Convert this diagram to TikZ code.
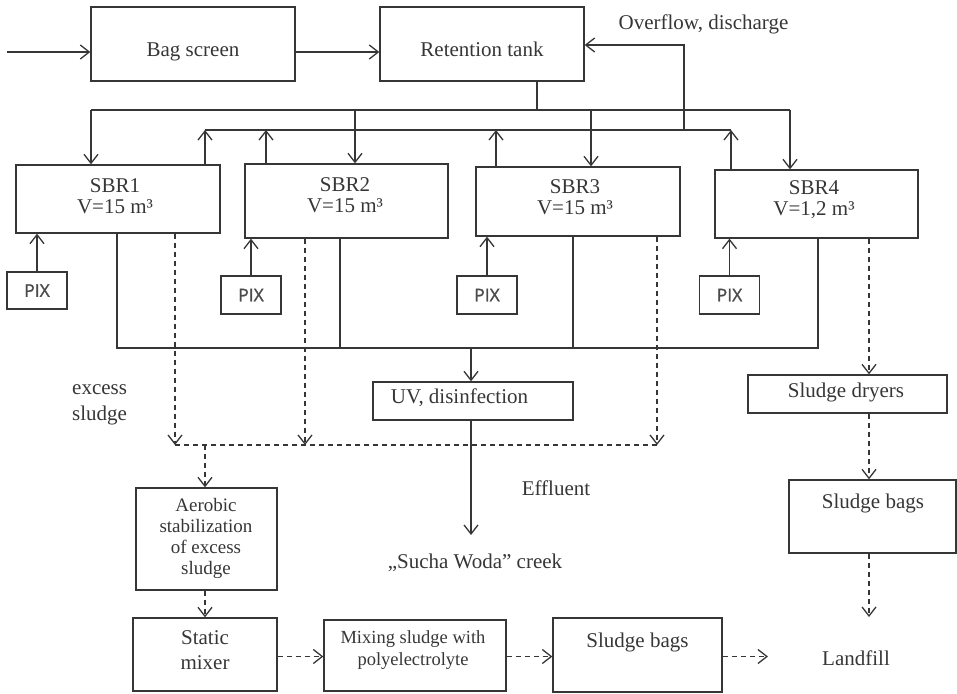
\documentclass[tikz,border=0pt]{standalone}
\usepackage{fontspec}
\setmainfont{Liberation Serif}
\newfontfamily\pixfont[FakeBold=1.2]{Open Sans}
\usetikzlibrary{arrows.meta,calc}
\definecolor{ink}{HTML}{363636}
\begin{document}
\begin{tikzpicture}[x=1pt,y=-1pt,
  box/.style={draw=ink, line width=1.3pt, inner sep=0pt, minimum width=#1},
  txt/.style={text=ink, inner sep=0pt, align=center, font=\fontsize{21}{21}\selectfont},
  small/.style={text=ink, inner sep=0pt, align=center, font=\fontsize{18.5}{21}\selectfont},
  pix/.style={draw=ink, line width=1.3pt, minimum width=60pt, minimum height=38pt, inner sep=0pt, text=ink!90, font=\pixfont\fontsize{17.5}{17.5}\selectfont},
  conn/.style={draw=ink, line width=1.3pt},
  arr/.style={conn, -{Straight Barb[length=9pt,width=14pt,line width=1.3pt]}},
  dconn/.style={conn, dash pattern=on 5pt off 4pt},
  darr/.style={arr, dash pattern=on 5pt off 4pt}]
\useasboundingbox (0,0) rectangle (957,693);

% ---- boxes ----
\node[box=204pt, minimum height=74pt] (bag) at (193,44) {};
\node[box=204pt, minimum height=74pt] (ret) at (482,44) {};
\node[box=204pt, minimum height=68pt] (sbr1) at (118,199) {};
\node[box=203pt, minimum height=74pt] (sbr2) at (346.5,201) {};
\node[box=204pt, minimum height=69pt] (sbr3) at (578,201.5) {};
\node[box=203pt, minimum height=68pt] (sbr4) at (816.5,204) {};
\node[pix, minimum height=37pt] (pix1) at (37,290.5) {PIX};
\node[pix] (pix2) at (251,295) {PIX};
\node[pix] (pix3) at (487,295) {PIX};
\node[pix] (pix4) at (729.5,295) {PIX};
\node[box=200pt, minimum height=38pt] (uv) at (473,401) {};
\node[box=199pt, minimum height=38pt] (dry) at (847.5,394) {};
\node[box=167pt, minimum height=73pt] (sbR) at (872.5,516.5) {};
\node[box=141pt, minimum height=102pt] (aer) at (206.5,539) {};
\node[box=144pt, minimum height=73pt] (mixer) at (205,654.5) {};
\node[box=182pt, minimum height=71pt] (mixp) at (415,655.5) {};
\node[box=169pt, minimum height=74pt] (sbB) at (637.5,655) {};

% ---- texts ----
\node[txt] (bagt) at (193,52) {Bag screen};
\node[txt] (rett) at (482,49) {Retention tank};
\node[txt] (ovt) at (703.5,24) {Overflow, discharge};
\node[txt] (s1t) at (115,196) {SBR1\\V=15 m³};
\node[txt] (s2t) at (345,195) {SBR2\\V=15 m³};
\node[txt] (s3t) at (575,197) {SBR3\\V=15 m³};
\node[txt] (s4t) at (814,200) {SBR4\\V=1,2 m³};
\node[txt] (uvt) at (459.5,398) {UV, disinfection};
\node[txt, align=left, anchor=west, font=\fontsize{21}{26}\selectfont] (exs) at (72,405) {excess\\sludge};
\node[txt] (dryt) at (846,392) {Sludge dryers};
\node[txt] (eff) at (556,488) {Effluent};
\node[txt] (creek) at (475,563) {„Sucha Woda” creek};
\node[txt] (sbRt) at (873,503) {Sludge bags};
\node[txt] (lf) at (856,658) {Landfill};
\node[small, font=\fontsize{19}{21}\selectfont] (aert) at (206,538) {Aerobic\\stabilization\\of excess\\sludge};
\node[txt, font=\fontsize{21}{25}\selectfont] (mixert) at (205,650) {Static\\mixer};
\node[small, font=\fontsize{18.5}{22}\selectfont] (mixpt) at (413,650) {Mixing sludge with\\polyelectrolyte};
\node[txt] (sbBt) at (637.5,642) {Sludge bags};

% ---- coordinates ----
\coordinate (in) at (7,52);
\coordinate (ov) at (684,45);
\coordinate (ovb) at (684,130);
\coordinate (r1) at (205,130);
\coordinate (r2) at (266,130);
\coordinate (r3) at (496,130);
\coordinate (r4) at (731,130);
\coordinate (d0) at (537,110);
\coordinate (d1) at (91,110);
\coordinate (d2) at (355,110);
\coordinate (d3) at (591,110);
\coordinate (d4) at (790,110);
\coordinate (e1) at (117,348);
\coordinate (e2) at (340,348);
\coordinate (e3) at (573,348);
\coordinate (e4) at (818,348);
\coordinate (eu) at (471,348);
\coordinate (ck) at (471,535);
\coordinate (x1) at (175,445);
\coordinate (x2) at (305,445);
\coordinate (x3) at (657,445);
\coordinate (xa) at (205,445);
\coordinate (rs) at (869,348);
\coordinate (lfa) at (869,617);
\coordinate (bl) at (0,656.5);
\coordinate (lfb) at (768,656.5);

% ---- top flow ----
\draw[arr] (in) -- (in -| bag.west);
\draw[arr] (in -| bag.east) -- (in -| ret.west);
\draw[arr] (ovb) -- (ov) -- (ov -| ret.east);

% distribution
\draw[conn] (d0 |- ret.south) -- (d0);
\draw[conn] (d1) -- (d4);
\draw[arr] (d1) -- (d1 |- sbr1.north);
\draw[arr] (d2) -- (d2 |- sbr2.north);
\draw[arr] (d3) -- (d3 |- sbr3.north);
\draw[arr] (d4) -- (d4 |- sbr4.north);

% return
\draw[conn] (r1) -- (r4);
\draw[arr] (r1 |- sbr1.north) -- (r1);
\draw[arr] (r2 |- sbr2.north) -- (r2);
\draw[arr] (r3 |- sbr3.north) -- (r3);
\draw[arr] (r4 |- sbr4.north) -- (r4);

% PIX
\draw[arr] (pix1.north) -- (pix1.north |- sbr1.south);
\draw[arr] (pix2.north) -- (pix2.north |- sbr2.south);
\draw[arr] (pix3.north) -- (pix3.north |- sbr3.south);
\draw[arr] (pix4.north) -- (pix4.north |- sbr4.south);

% effluent collector
\draw[conn] (e1 |- sbr1.south) -- (e1) -- (e4) -- (e4 |- sbr4.south);
\draw[conn] (e2 |- sbr2.south) -- (e2);
\draw[conn] (e3 |- sbr3.south) -- (e3);
\draw[arr] (eu) -- (eu |- uv.north);
\draw[arr] (ck |- uv.south) -- (ck);

% excess sludge
\draw[darr] (x1 |- sbr1.south) -- (x1);
\draw[darr] (x2 |- sbr2.south) -- (x2);
\draw[darr] (x3 |- sbr3.south) -- (x3);
\draw[dconn] (x1) -- (x3);
\draw[darr] (xa) -- (xa |- aer.north);
\draw[darr] (aer.south -| xa) -- (mixer.north -| xa);
\draw[darr] (bl -| mixer.east) -- (bl -| mixp.west);
\draw[darr] (bl -| mixp.east) -- (bl -| sbB.west);
\draw[darr] (bl -| sbB.east) -- (lfb);

% right column
\draw[darr] (rs |- sbr4.south) -- (rs |- dry.north);
\draw[darr] (rs |- dry.south) -- (rs |- sbR.north);
\draw[darr] (rs |- sbR.south) -- (lfa);
\end{tikzpicture}
\end{document}
